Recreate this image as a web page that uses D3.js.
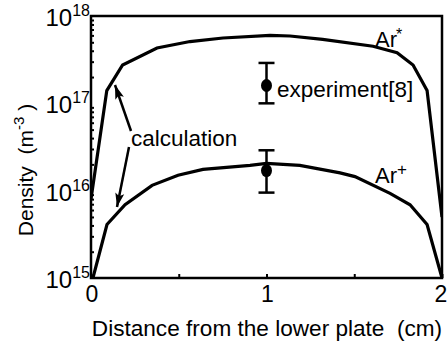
<!DOCTYPE html>
<html>
<head>
<meta charset="utf-8">
<script src="https://cdn.jsdelivr.net/npm/d3@7"></script>
<style>
  body { margin: 0; background: #fff; }
  svg text { font-family: "Liberation Sans", Arial, Helvetica, sans-serif; fill: #000; }
</style>
</head>
<body>
<svg id="chart"></svg>
<script>
var width = 447
var height = 346

// calculated Ar* density (m^-3) vs distance (cm)
var starX = [0, 0.09, 0.18, 0.376, 0.564, 0.752, 1.02, 1.134, 1.32, 1.607, 1.744, 1.835, 1.915, 2.0]
var starY = [8e15, 1.4e17, 2.75e17, 4.3e17, 5.1e17, 5.6e17, 6.0e17, 5.9e17, 5.4e17, 4.5e17, 3.8e17, 2.75e17, 1.4e17, 5e15]

// calculated Ar+ density
var plusX = [0.011, 0.091, 0.194, 0.348, 0.496, 0.638, 0.906, 1.0, 1.19, 1.419, 1.504, 1.704, 1.818, 1.915, 2.0]
var plusY = [1e15, 4.1e15, 6.9e15, 1.15e16, 1.5e16, 1.75e16, 1.95e16, 2.05e16, 1.95e16, 1.6e16, 1.45e16, 9.3e15, 6.9e15, 4.1e15, 1e15]

// experiment [8]: x, value, low, high
var expX = [1, 1]
var expY = [1.6e17, 1.7e16]
var expLow = [1.0e17, 9.5e15]
var expHigh = [2.9e17, 2.9e16]

var xTicks = [0, 0.5, 1, 1.5, 2]
var xLabels = [0, 1, 2]
var decades = [15, 16, 17, 18]

var svg = d3.select('#chart')
    .attr("width", width)
    .attr("height", height)

var x = d3.scaleLinear().domain([0, 2]).range([91, 442])
var y = d3.scaleLog().domain([1e15, 1e18]).range([278, 16])

// minor log ticks on the left axis
var minor = []
decades.slice(0, 3).forEach(function(e){
  for (var k = 2; k <= 9; k++) minor.push(k * Math.pow(10, e))
})

svg.append("g")
    .attr("transform", "translate(" + x(0) + ",0)")
    .call(d3.axisLeft(y).tickValues(minor).tickSize(-3).tickFormat(""))
    .call(g => g.select(".domain").remove())
    .selectAll("line").attr("stroke", "#000").attr("stroke-width", 2)

svg.append("g")
    .attr("transform", "translate(0," + y(1e15) + ")")
    .call(d3.axisBottom(x).tickValues(xTicks).tickSize(-4).tickFormat(""))
    .call(g => g.select(".domain").remove())
    .selectAll("line").attr("stroke", "#000").attr("stroke-width", 2)

// frame
svg.append("rect")
    .attr("x", x(0))
    .attr("y", y(1e18))
    .attr("width", x(2) - x(0))
    .attr("height", y(1e15) - y(1e18))
    .attr("fill", "none")
    .attr("stroke", "#000")
    .attr("stroke-width", 2.5)

// x tick labels
svg.append("g").selectAll("text")
    .data(xLabels)
    .join("text")
    .attr("x", d => x(d) + (d == 2 ? -1 : 1))
    .attr("y", 302)
    .attr("text-anchor", "middle")
    .attr("font-size", 23)
    .text(d => d)

// y tick labels 10^n
var ylab = svg.append("g").selectAll("text")
    .data(decades)
    .join("text")
    .attr("x", 90)
    .attr("y", d => y(Math.pow(10, d)) + 10)
    .attr("text-anchor", "end")
    .attr("font-size", 24)
ylab.append("tspan").text("10")
ylab.append("tspan")
    .attr("dy", -10)
    .attr("font-size", 16)
    .text(d => d)

// axis titles
svg.append("text")
    .attr("x", 267)
    .attr("y", 336)
    .attr("text-anchor", "middle")
    .attr("font-size", 22.6)
    .style("white-space", "pre")
    .text("Distance from the lower plate  (cm)")

var yt = svg.append("text")
    .attr("transform", "translate(33,170) rotate(-90)")
    .attr("text-anchor", "middle")
    .attr("font-size", 21)
    .style("white-space", "pre")
yt.append("tspan").text("Density  (m")
yt.append("tspan").attr("dy", -9).attr("font-size", 15).text("-3")
yt.append("tspan").attr("dy", 9).text(" )")

// curves
svg.append("clipPath").attr("id", "plot")
  .append("rect")
    .attr("x", x(0)).attr("y", y(1e18))
    .attr("width", x(2) - x(0)).attr("height", y(1e15) - y(1e18))

var line = d3.line()
    .x(d => x(d[0]))
    .y(d => y(d[1]))

var curves = [d3.zip(starX, starY), d3.zip(plusX, plusY)]

svg.append("g")
    .attr("clip-path", "url(#plot)")
    .selectAll("path")
    .data(curves)
    .join("path")
    .attr("d", line)
    .attr("fill", "none")
    .attr("stroke", "#000")
    .attr("stroke-width", 3.2)

// experiment points with error bars
var exp = d3.range(expX.length).map(i => ({x: expX[i], v: expY[i], lo: expLow[i], hi: expHigh[i]}))
var eg = svg.append("g").attr("stroke", "#000").attr("stroke-width", 2.5)
eg.selectAll(".bar").data(exp).join("line")
    .attr("x1", d => x(d.x)).attr("x2", d => x(d.x))
    .attr("y1", d => y(d.lo)).attr("y2", d => y(d.hi))
eg.selectAll(".capHi").data(exp).join("line").attr("class", "capHi")
    .attr("x1", d => x(d.x) - 8).attr("x2", d => x(d.x) + 8)
    .attr("y1", d => y(d.hi)).attr("y2", d => y(d.hi))
eg.selectAll(".capLo").data(exp).join("line").attr("class", "capLo")
    .attr("x1", d => x(d.x) - 8).attr("x2", d => x(d.x) + 8)
    .attr("y1", d => y(d.lo)).attr("y2", d => y(d.lo))
svg.append("g").selectAll("ellipse").data(exp).join("ellipse")
    .attr("cx", d => x(d.x))
    .attr("cy", d => y(d.v))
    .attr("rx", 5.5)
    .attr("ry", 6.5)
    .attr("fill", "#000")

// labels
var star = svg.append("text").attr("x", 375).attr("y", 47).attr("font-size", 22)
star.append("tspan").text("Ar")
star.append("tspan").attr("dx", -1).attr("dy", -7).attr("font-size", 16).text("*")

var plus = svg.append("text").attr("x", 375).attr("y", 183).attr("font-size", 22)
plus.append("tspan").text("Ar")
plus.append("tspan").attr("dy", -8).attr("font-size", 17).text("+")

svg.append("text")
    .attr("x", 277)
    .attr("y", 97)
    .attr("font-size", 22.5)
    .text("experiment[8]")

svg.append("text")
    .attr("x", 131)
    .attr("y", 146)
    .attr("font-size", 22.5)
    .text("calculation")

// arrows
svg.append("defs").append("marker")
    .attr("id", "head")
    .attr("viewBox", "0 0 14 10")
    .attr("refX", 14).attr("refY", 5)
    .attr("markerWidth", 14).attr("markerHeight", 10)
    .attr("markerUnits", "userSpaceOnUse")
    .attr("orient", "auto")
  .append("path")
    .attr("d", "M0,0.5 L14,5 L0,9.5 L3,5 Z")
    .attr("fill", "#000")

var arrows = [[131, 131, 115, 85], [129, 147, 117, 207]]
svg.append("g").selectAll("line")
    .data(arrows)
    .join("line")
    .attr("x1", d => d[0]).attr("y1", d => d[1])
    .attr("x2", d => d[2]).attr("y2", d => d[3])
    .attr("stroke", "#000")
    .attr("stroke-width", 2.5)
    .attr("marker-end", "url(#head)")
</script>
</body>
</html>
